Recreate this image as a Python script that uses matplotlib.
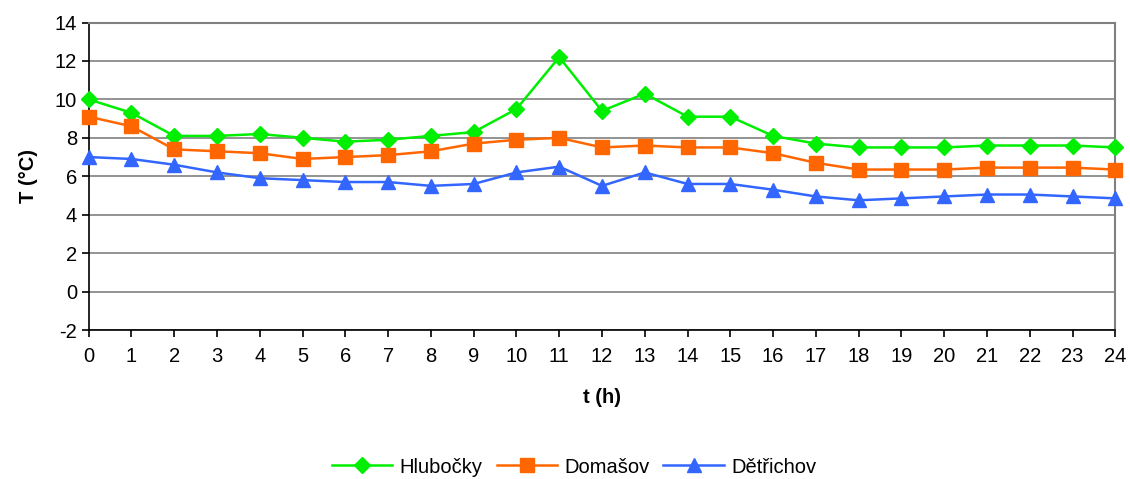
import matplotlib.pyplot as plt
import numpy as np

plt.rcParams['font.family'] = ['Liberation Sans', 'DejaVu Sans']
plt.rcParams['axes.unicode_minus'] = False

# hodiny
hours = np.arange(0, 25)

# teploty ve stanicich
hlubocky = [10.0, 9.3, 8.1, 8.1, 8.2, 8.0, 7.8, 7.9, 8.1, 8.3, 9.5, 12.2, 9.4,
            10.3, 9.1, 9.1, 8.1, 7.7, 7.5, 7.5, 7.5, 7.6, 7.6, 7.6, 7.5]
domasov = [9.1, 8.6, 7.4, 7.3, 7.2, 6.9, 7.0, 7.1, 7.3, 7.7, 7.9, 8.0, 7.5,
           7.6, 7.5, 7.5, 7.2, 6.7, 6.35, 6.35, 6.35, 6.45, 6.45, 6.45, 6.35]
detrichov = [7.0, 6.9, 6.6, 6.2, 5.9, 5.8, 5.7, 5.7, 5.5, 5.6, 6.2, 6.5, 5.5,
             6.2, 5.6, 5.6, 5.3, 4.95, 4.75, 4.85, 4.95, 5.05, 5.05, 4.95, 4.85]

fig = plt.figure(figsize=(11.3, 4.79), dpi=100)
ax = fig.add_axes([0.0785, 0.311, 0.9085, 0.642])

ax.plot(hours, hlubocky, color='#00ee00', marker='D', markersize=8.5, lw=1.8,
        label='Hlubočky', clip_on=False, zorder=3)
ax.plot(hours, domasov, color='#ff6600', marker='s', markersize=9.5, lw=1.8,
        label='Domašov', clip_on=False, zorder=3)
ax.plot(hours, detrichov, color='#3366ff', marker='^', markersize=10.5, lw=1.8,
        label='Dětřichov', clip_on=False, zorder=3)

# osy
ax.set_xlim(0, 24)
ax.set_ylim(-2, 14)
ax.set_xticks(hours)
ax.set_yticks(np.arange(-2, 15, 2))
ax.tick_params(labelsize=14.5, direction='out', length=5, width=1.2, colors='black')
ax.tick_params(axis='x', pad=7)
ax.yaxis.grid(True, color='#808080', lw=1.2)
ax.set_axisbelow(True)

for s in ['left', 'bottom']:
    ax.spines[s].set_color('black')
    ax.spines[s].set_linewidth(1.2)
for s in ['top', 'right']:
    ax.spines[s].set_color('#808080')
    ax.spines[s].set_linewidth(1.5)

ax.set_xlabel('t (h)', fontsize=14.5, fontweight='bold', labelpad=16)
ax.set_ylabel('T (°C)', fontsize=14.5, fontweight='bold', labelpad=12)

fig.legend(loc='center', bbox_to_anchor=(0.508, 0.025), ncol=3, frameon=False,
           fontsize=14.5, handlelength=3.0, columnspacing=0.7, handletextpad=0.35)

plt.savefig('out.png', dpi=100)
